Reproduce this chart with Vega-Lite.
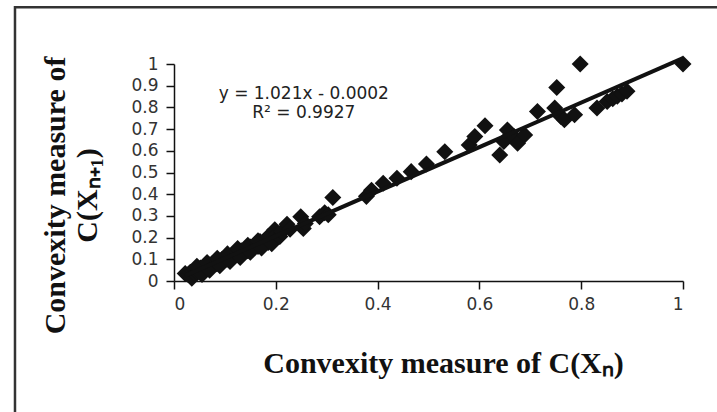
{
  "$schema": "https://vega.github.io/schema/vega-lite/v6.json",
  "width": 509,
  "height": 217,
  "autosize": {"type": "none"},
  "padding": {"left": 174, "top": 64, "right": 34, "bottom": 131},
  "background": "white",
  "config": {"view": {"stroke": null}, "font": "DejaVu Sans"},
  "datasets": {
    "points": [
      {"x": 0.022, "y": 0.035}, {"x": 0.028, "y": 0.030}, {"x": 0.032, "y": 0.040}, {"x": 0.035, "y": 0.013},
      {"x": 0.038, "y": 0.046}, {"x": 0.040, "y": 0.036}, {"x": 0.042, "y": 0.052}, {"x": 0.045, "y": 0.043},
      {"x": 0.047, "y": 0.055}, {"x": 0.050, "y": 0.047}, {"x": 0.052, "y": 0.060}, {"x": 0.055, "y": 0.052},
      {"x": 0.058, "y": 0.064}, {"x": 0.060, "y": 0.056}, {"x": 0.063, "y": 0.068}, {"x": 0.066, "y": 0.062},
      {"x": 0.069, "y": 0.074}, {"x": 0.072, "y": 0.068}, {"x": 0.075, "y": 0.080}, {"x": 0.078, "y": 0.075},
      {"x": 0.081, "y": 0.086}, {"x": 0.084, "y": 0.080}, {"x": 0.087, "y": 0.093}, {"x": 0.090, "y": 0.087},
      {"x": 0.094, "y": 0.099}, {"x": 0.097, "y": 0.093}, {"x": 0.100, "y": 0.106}, {"x": 0.104, "y": 0.100},
      {"x": 0.108, "y": 0.114}, {"x": 0.112, "y": 0.107}, {"x": 0.116, "y": 0.122}, {"x": 0.120, "y": 0.116},
      {"x": 0.124, "y": 0.131}, {"x": 0.128, "y": 0.123}, {"x": 0.132, "y": 0.139}, {"x": 0.136, "y": 0.131},
      {"x": 0.140, "y": 0.148}, {"x": 0.145, "y": 0.139}, {"x": 0.150, "y": 0.157}, {"x": 0.155, "y": 0.149},
      {"x": 0.160, "y": 0.169}, {"x": 0.165, "y": 0.159}, {"x": 0.169, "y": 0.182}, {"x": 0.175, "y": 0.170},
      {"x": 0.180, "y": 0.190}, {"x": 0.185, "y": 0.178}, {"x": 0.190, "y": 0.200}, {"x": 0.195, "y": 0.188},
      {"x": 0.045, "y": 0.068}, {"x": 0.055, "y": 0.030}, {"x": 0.065, "y": 0.085}, {"x": 0.070, "y": 0.050},
      {"x": 0.085, "y": 0.105}, {"x": 0.090, "y": 0.070}, {"x": 0.105, "y": 0.125}, {"x": 0.110, "y": 0.090},
      {"x": 0.125, "y": 0.150}, {"x": 0.130, "y": 0.108}, {"x": 0.145, "y": 0.165}, {"x": 0.150, "y": 0.132},
      {"x": 0.165, "y": 0.185}, {"x": 0.172, "y": 0.152}, {"x": 0.185, "y": 0.205}, {"x": 0.192, "y": 0.172},
      {"x": 0.198, "y": 0.236}, {"x": 0.202, "y": 0.215}, {"x": 0.208, "y": 0.205}, {"x": 0.212, "y": 0.228},
      {"x": 0.222, "y": 0.262}, {"x": 0.228, "y": 0.238}, {"x": 0.249, "y": 0.296}, {"x": 0.254, "y": 0.242},
      {"x": 0.258, "y": 0.265}, {"x": 0.286, "y": 0.296}, {"x": 0.296, "y": 0.315}, {"x": 0.303, "y": 0.305},
      {"x": 0.312, "y": 0.385}, {"x": 0.378, "y": 0.390}, {"x": 0.388, "y": 0.418}, {"x": 0.411, "y": 0.450},
      {"x": 0.438, "y": 0.473}, {"x": 0.466, "y": 0.504}, {"x": 0.496, "y": 0.539}, {"x": 0.532, "y": 0.596},
      {"x": 0.580, "y": 0.627}, {"x": 0.591, "y": 0.666}, {"x": 0.611, "y": 0.715}, {"x": 0.640, "y": 0.581},
      {"x": 0.648, "y": 0.643}, {"x": 0.655, "y": 0.696}, {"x": 0.668, "y": 0.666}, {"x": 0.675, "y": 0.635},
      {"x": 0.689, "y": 0.673}, {"x": 0.714, "y": 0.781}, {"x": 0.748, "y": 0.797}, {"x": 0.752, "y": 0.892},
      {"x": 0.760, "y": 0.758}, {"x": 0.767, "y": 0.743}, {"x": 0.787, "y": 0.766}, {"x": 0.798, "y": 1.000},
      {"x": 0.831, "y": 0.797}, {"x": 0.851, "y": 0.827}, {"x": 0.862, "y": 0.840}, {"x": 0.871, "y": 0.851},
      {"x": 0.880, "y": 0.862}, {"x": 0.890, "y": 0.874}, {"x": 1.000, "y": 1.000}
    ]
  },
  "layer": [
    {
      "data": {"name": "points"},
      "mark": {"type": "point", "shape": "diamond", "filled": true, "size": 290, "color": "#111111", "opacity": 1},
      "encoding": {
        "x": {
          "field": "x", "type": "quantitative",
          "scale": {"domain": [0, 1], "nice": false, "zero": false},
          "axis": {
            "values": [0, 0.2, 0.4, 0.6, 0.8, 1], "format": "~g", "grid": false, "labelOverlap": false,
            "domainColor": "#111111", "domainWidth": 1.5, "tickColor": "#111111", "tickWidth": 1.5, "tickSize": 8,
            "labelFont": "DejaVu Sans", "labelFontSize": 17, "labelColor": "#333333", "labelPadding": 7,
            "title": "Convexity measure of C(Xₙ)",
            "titleFont": "Liberation Serif", "titleFontSize": 30, "titleFontWeight": "bold", "titleColor": "#111111",
            "titleX": 269, "titleY": 91, "titleBaseline": "alphabetic", "titleAlign": "center"
          }
        },
        "y": {
          "field": "y", "type": "quantitative",
          "scale": {"domain": [0, 1], "nice": false, "zero": false},
          "axis": {
            "values": [0, 0.1, 0.2, 0.3, 0.4, 0.5, 0.6, 0.7, 0.8, 0.9, 1], "format": "~g", "grid": false, "labelOverlap": false,
            "domainColor": "#111111", "domainWidth": 1.5, "tickColor": "#111111", "tickWidth": 1.5, "tickSize": 8,
            "labelFont": "DejaVu Sans", "labelFontSize": 17, "labelColor": "#333333", "labelPadding": 8,
            "title": ["Convexity measure of", "C(Xₙ₊₁)"],
            "titleFont": "Liberation Serif", "titleFontSize": 30, "titleFontWeight": "bold", "titleColor": "#111111",
            "titleLineHeight": 32,
            "titleX": -119, "titleY": 131, "titleAngle": -90, "titleBaseline": "middle", "titleAlign": "center"
          }
        }
      }
    },
    {
      "data": {"name": "points"},
      "transform": [{"regression": "y", "on": "x", "extent": [0.022, 1]}],
      "mark": {"type": "line", "color": "#111111", "strokeWidth": 4},
      "encoding": {
        "x": {
          "field": "x", "type": "quantitative",
          "scale": {"domain": [0, 1], "nice": false, "zero": false},
          "axis": {
            "values": [0, 0.2, 0.4, 0.6, 0.8, 1], "format": "~g", "grid": false, "labelOverlap": false,
            "domainColor": "#111111", "domainWidth": 1.5, "tickColor": "#111111", "tickWidth": 1.5, "tickSize": 8,
            "labelFont": "DejaVu Sans", "labelFontSize": 17, "labelColor": "#333333", "labelPadding": 7,
            "title": "Convexity measure of C(Xₙ)",
            "titleFont": "Liberation Serif", "titleFontSize": 30, "titleFontWeight": "bold", "titleColor": "#111111",
            "titleX": 269, "titleY": 91, "titleBaseline": "alphabetic", "titleAlign": "center"
          }
        },
        "y": {
          "field": "y", "type": "quantitative",
          "scale": {"domain": [0, 1], "nice": false, "zero": false},
          "axis": {
            "values": [0, 0.1, 0.2, 0.3, 0.4, 0.5, 0.6, 0.7, 0.8, 0.9, 1], "format": "~g", "grid": false, "labelOverlap": false,
            "domainColor": "#111111", "domainWidth": 1.5, "tickColor": "#111111", "tickWidth": 1.5, "tickSize": 8,
            "labelFont": "DejaVu Sans", "labelFontSize": 17, "labelColor": "#333333", "labelPadding": 8,
            "title": ["Convexity measure of", "C(Xₙ₊₁)"],
            "titleFont": "Liberation Serif", "titleFontSize": 30, "titleFontWeight": "bold", "titleColor": "#111111",
            "titleLineHeight": 32,
            "titleX": -119, "titleY": 131, "titleAngle": -90, "titleBaseline": "middle", "titleAlign": "center"
          }
        }
      }
    },
    {
      "data": {"values": [{"t": "frame"}]},
      "mark": {"type": "rect", "fillOpacity": 0, "stroke": "#333333", "strokeWidth": 2.5},
      "encoding": {
        "x": {
          "datum": -0.3124, "type": "quantitative",
          "scale": {"domain": [0, 1], "nice": false, "zero": false},
          "axis": {
            "values": [0, 0.2, 0.4, 0.6, 0.8, 1], "format": "~g", "grid": false, "labelOverlap": false,
            "domainColor": "#111111", "domainWidth": 1.5, "tickColor": "#111111", "tickWidth": 1.5, "tickSize": 8,
            "labelFont": "DejaVu Sans", "labelFontSize": 17, "labelColor": "#333333", "labelPadding": 7,
            "title": "Convexity measure of C(Xₙ)",
            "titleFont": "Liberation Serif", "titleFontSize": 30, "titleFontWeight": "bold", "titleColor": "#111111",
            "titleX": 269, "titleY": 91, "titleBaseline": "alphabetic", "titleAlign": "center"
          }
        },
        "x2": {"datum": 1.2},
        "y": {
          "datum": 1.261, "type": "quantitative",
          "scale": {"domain": [0, 1], "nice": false, "zero": false},
          "axis": {
            "values": [0, 0.1, 0.2, 0.3, 0.4, 0.5, 0.6, 0.7, 0.8, 0.9, 1], "format": "~g", "grid": false, "labelOverlap": false,
            "domainColor": "#111111", "domainWidth": 1.5, "tickColor": "#111111", "tickWidth": 1.5, "tickSize": 8,
            "labelFont": "DejaVu Sans", "labelFontSize": 17, "labelColor": "#333333", "labelPadding": 8,
            "title": ["Convexity measure of", "C(Xₙ₊₁)"],
            "titleFont": "Liberation Serif", "titleFontSize": 30, "titleFontWeight": "bold", "titleColor": "#111111",
            "titleLineHeight": 32,
            "titleX": -119, "titleY": 131, "titleAngle": -90, "titleBaseline": "middle", "titleAlign": "center"
          }
        },
        "y2": {"datum": -0.7}
      }
    },
    {
      "data": {"values": [{"t": "eq"}]},
      "mark": {
        "type": "text",
        "text": ["y = 1.021x - 0.0002", "R² = 0.9927"],
        "font": "DejaVu Sans", "fontSize": 17, "color": "#222222",
        "align": "center", "baseline": "middle", "lineHeight": 19
      },
      "encoding": {
        "x": {
          "datum": 0.255, "type": "quantitative",
          "scale": {"domain": [0, 1], "nice": false, "zero": false},
          "axis": {
            "values": [0, 0.2, 0.4, 0.6, 0.8, 1], "format": "~g", "grid": false, "labelOverlap": false,
            "domainColor": "#111111", "domainWidth": 1.5, "tickColor": "#111111", "tickWidth": 1.5, "tickSize": 8,
            "labelFont": "DejaVu Sans", "labelFontSize": 17, "labelColor": "#333333", "labelPadding": 7,
            "title": "Convexity measure of C(Xₙ)",
            "titleFont": "Liberation Serif", "titleFontSize": 30, "titleFontWeight": "bold", "titleColor": "#111111",
            "titleX": 269, "titleY": 91, "titleBaseline": "alphabetic", "titleAlign": "center"
          }
        },
        "y": {
          "datum": 0.864, "type": "quantitative",
          "scale": {"domain": [0, 1], "nice": false, "zero": false},
          "axis": {
            "values": [0, 0.1, 0.2, 0.3, 0.4, 0.5, 0.6, 0.7, 0.8, 0.9, 1], "format": "~g", "grid": false, "labelOverlap": false,
            "domainColor": "#111111", "domainWidth": 1.5, "tickColor": "#111111", "tickWidth": 1.5, "tickSize": 8,
            "labelFont": "DejaVu Sans", "labelFontSize": 17, "labelColor": "#333333", "labelPadding": 8,
            "title": ["Convexity measure of", "C(Xₙ₊₁)"],
            "titleFont": "Liberation Serif", "titleFontSize": 30, "titleFontWeight": "bold", "titleColor": "#111111",
            "titleLineHeight": 32,
            "titleX": -119, "titleY": 131, "titleAngle": -90, "titleBaseline": "middle", "titleAlign": "center"
          }
        }
      }
    }
  ]
}
